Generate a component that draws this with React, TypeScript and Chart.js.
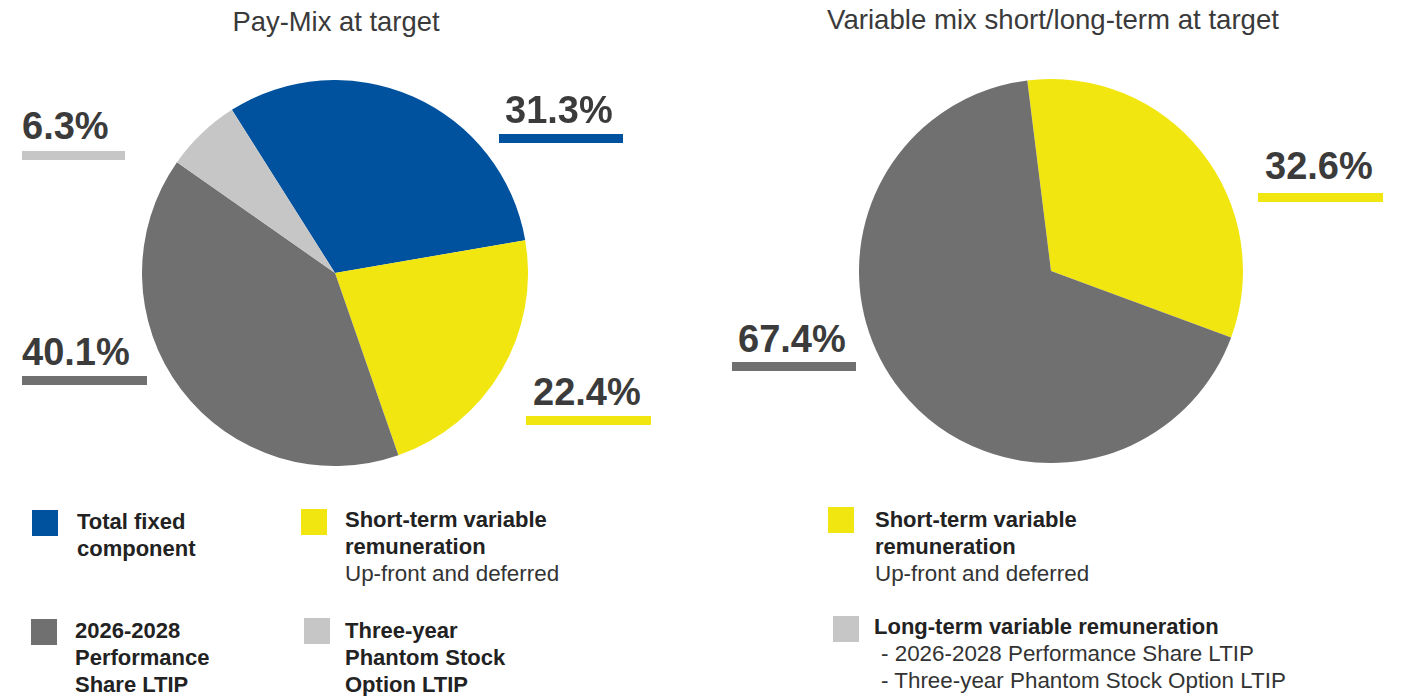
import React, { useEffect, useRef } from "react";
import { Chart, registerables } from "chart.js";

Chart.register(...registerables);

// ---- data ----
const payMixTitle = "Pay-Mix at target";
const payMixCategories = [
  "Total fixed component",
  "Short-term variable remuneration",
  "2026-2028 Performance Share LTIP",
  "Three-year Phantom Stock Option LTIP",
];
const payMixValues = [31.3, 22.4, 40.1, 6.3];

const variableTitle = "Variable mix short/long-term at target";
const variableCategories = ["Short-term variable remuneration", "Long-term variable remuneration"];
const variableValues = [32.6, 67.4];

// ---- styles ----
const BLUE = "#00529f";
const YELLOW = "#f2e611";
const DARK = "#717071";
const LIGHT = "#c6c6c6";
const payMixColors = [BLUE, YELLOW, DARK, LIGHT];
const variableColors = [YELLOW, DARK];

const FONT = '"Liberation Sans", Arial, Helvetica, sans-serif';

// label placement (text left, baseline, bar left, bar top, bar width)
const payMixLabelPos = [
  { tx: 505, by: 123, bx: 499, bt: 134, bw: 124 },
  { tx: 533, by: 405, bx: 526, bt: 416, bw: 125 },
  { tx: 22, by: 365, bx: 22, bt: 376, bw: 125 },
  { tx: 22, by: 139, bx: 22, bt: 151, bw: 103 },
];
const variableLabelPos = [
  { tx: 1265, by: 179, bx: 1258, bt: 193, bw: 125 },
  { tx: 738, by: 352, bx: 732, bt: 362, bw: 124 },
];

function Pie({ values, labels, colors, rotation, left, top, size }: any) {
  const ref = useRef<HTMLCanvasElement | null>(null);
  useEffect(() => {
    if (!ref.current) return;
    const chart = new Chart(ref.current, {
      type: "pie",
      data: {
        labels,
        datasets: [
          {
            data: values,
            backgroundColor: colors,
            borderWidth: 0,
            hoverOffset: 0,
            offset: 0,
          },
        ],
      },
      options: {
        responsive: false,
        animation: false,
        devicePixelRatio: 1,
        rotation,
        layout: { padding: 0 },
        events: [],
        plugins: { legend: { display: false }, tooltip: { enabled: false }, title: { display: false } },
      } as any,
    });
    return () => chart.destroy();
  }, []);
  return (
    <canvas
      ref={ref}
      width={size}
      height={size}
      style={{ position: "absolute", left, top, width: size, height: size }}
    />
  );
}

function PctLabel({ value, color, p }: any) {
  return (
    <>
      <div
        style={{
          position: "absolute",
          left: p.tx,
          top: p.by - 32,
          font: `bold 38px ${FONT}`,
          lineHeight: "38px",
          color: "#3b3b3b",
          whiteSpace: "nowrap",
        }}
      >
        {value.toFixed(1)}%
      </div>
      <div style={{ position: "absolute", left: p.bx, top: p.bt, width: p.bw, height: 9, background: color }} />
    </>
  );
}

function LegendItem({ color, sq, tx, ty, bold, normal, indent }: any) {
  return (
    <>
      <div style={{ position: "absolute", left: sq[0], top: sq[1], width: 26, height: 26, background: color }} />
      <div
        style={{
          position: "absolute",
          left: tx,
          top: ty,
          font: `22.4px ${FONT}`,
          lineHeight: "26.8px",
          whiteSpace: "nowrap",
        }}
      >
        {bold.map((l: string, i: number) => (
          <div key={"b" + i} style={{ fontWeight: "bold", color: "#222", fontSize: 22 }}>
            {l}
          </div>
        ))}
        {normal.map((l: string, i: number) => (
          <div key={"n" + i} style={{ color: "#333", paddingLeft: indent || 0 }}>
            {l}
          </div>
        ))}
      </div>
    </>
  );
}

export default function App() {
  return (
    <div
      style={{
        position: "absolute",
        left: 0,
        top: 0,
        width: 1404,
        height: 696,
        background: "#fff",
        overflow: "hidden",
        fontFamily: FONT,
      }}
    >
      <div
        style={{
          position: "absolute",
          left: 336 - 300,
          width: 600,
          top: 8,
          textAlign: "center",
          font: `27.4px ${FONT}`,
          lineHeight: "27px",
          color: "#3a3a3a",
        }}
      >
        {payMixTitle}
      </div>
      <div
        style={{
          position: "absolute",
          left: 1053 - 350,
          width: 700,
          top: 6,
          textAlign: "center",
          font: `27.6px ${FONT}`,
          lineHeight: "27px",
          color: "#3a3a3a",
        }}
      >
        {variableTitle}
      </div>

      <Pie values={payMixValues} labels={payMixCategories} colors={payMixColors} rotation={-32.3} left={142} top={80} size={386} />
      <Pie values={variableValues} labels={variableCategories} colors={variableColors} rotation={-7.1} left={859} top={79} size={384} />

      {payMixValues.map((v, i) => (
        <PctLabel key={"p" + i} value={v} color={payMixColors[i]} p={payMixLabelPos[i]} />
      ))}
      {variableValues.map((v, i) => (
        <PctLabel key={"v" + i} value={v} color={variableColors[i]} p={variableLabelPos[i]} />
      ))}

      <LegendItem color={BLUE} sq={[32, 510]} tx={77} ty={509} bold={["Total fixed", "component"]} normal={[]} />
      <LegendItem
        color={YELLOW}
        sq={[301, 509]}
        tx={345}
        ty={507}
        bold={["Short-term variable", "remuneration"]}
        normal={["Up-front and deferred"]}
      />
      <LegendItem color={DARK} sq={[31, 619]} tx={75} ty={618} bold={["2026-2028", "Performance", "Share LTIP"]} normal={[]} />
      <LegendItem
        color={LIGHT}
        sq={[304, 618]}
        tx={345}
        ty={618}
        bold={["Three-year", "Phantom Stock", "Option LTIP"]}
        normal={[]}
      />

      <LegendItem
        color={YELLOW}
        sq={[828, 507]}
        tx={875}
        ty={507}
        bold={["Short-term variable", "remuneration"]}
        normal={["Up-front and deferred"]}
      />
      <LegendItem
        color={LIGHT}
        sq={[833, 616]}
        tx={874}
        ty={614}
        bold={["Long-term variable remuneration"]}
        normal={["- 2026-2028 Performance Share LTIP", "- Three-year Phantom Stock Option LTIP"]}
        indent={7}
      />
    </div>
  );
}
